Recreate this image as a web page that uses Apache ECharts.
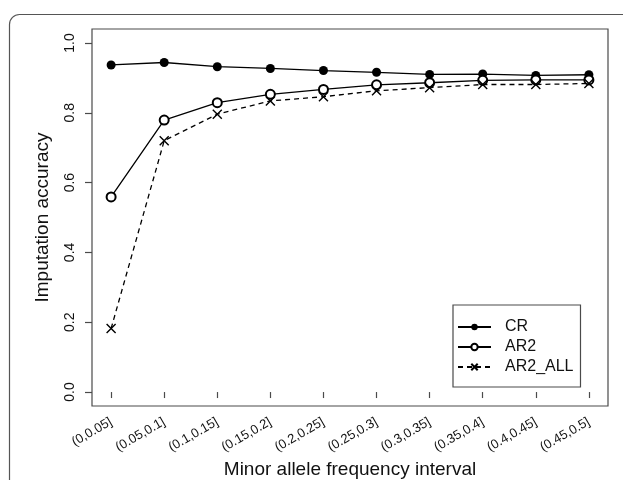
<!DOCTYPE html>
<html>
<head>
<meta charset="utf-8">
<script src="https://cdn.jsdelivr.net/npm/echarts@6/dist/echarts.min.js"></script>
<style>
html,body{margin:0;padding:0;background:#fff;}
#chart{width:623px;height:480px;}
</style>
</head>
<body>
<div id="chart"></div>
<script>
var categories = ['(0,0.05]','(0.05,0.1]','(0.1,0.15]','(0.15,0.2]','(0.2,0.25]','(0.25,0.3]','(0.3,0.35]','(0.35,0.4]','(0.4,0.45]','(0.45,0.5]'];
var crValues = [0.937, 0.944, 0.932, 0.927, 0.921, 0.916, 0.910, 0.911, 0.907, 0.909];
var ar2Values = [0.559, 0.779, 0.829, 0.853, 0.867, 0.880, 0.886, 0.893, 0.894, 0.894];
var ar2AllValues = [0.182, 0.720, 0.796, 0.834, 0.846, 0.863, 0.872, 0.881, 0.881, 0.884];
var yTicks = [0, 0.2, 0.4, 0.6, 0.8, 1.0];
var xPositions = [1,2,3,4,5,6,7,8,9,10];

function pairs(vals){ return vals.map(function(v,i){ return [xPositions[i], v]; }); }

var FONT = '"Liberation Sans", Arial, sans-serif';
var INK = '#111';
var FRAME = '#4a4a4a';

var chart = echarts.init(document.getElementById('chart'), null, {renderer:'canvas'});
chart.setOption({
  animation:false,
  backgroundColor:'#fff',
  graphic:[{
    type:'rect', silent:true, z:-1,
    shape:{x:9.5, y:14.5, width:700, height:600, r:10},
    style:{fill:'none', stroke:'#555', lineWidth:1.2}
  }],
  grid:{left:92, top:29, right:15, bottom:74, show:true, borderColor:FRAME, borderWidth:1.2, backgroundColor:'transparent',
    containLabel:false, outerBoundsMode:'none'},
  xAxis:{
    type:'value', min:0.64, max:10.36,
    name:'Minor allele frequency interval', nameLocation:'middle', nameGap:53,
    nameTextStyle:{fontFamily:FONT, fontSize:19, color:INK},
    splitLine:{show:false},
    axisLine:{show:false},
    axisTick:{show:true, length:6, customValues:xPositions, lineStyle:{color:FRAME, width:1.2}},
    axisLabel:{rotate:30, margin:15, fontFamily:FONT, fontSize:13, color:INK, customValues:xPositions,
      formatter:function(v){ return categories[Math.round(v)-1] || ''; }}
  },
  yAxis:{
    type:'value', min:-0.04, max:1.04,
    name:'Imputation accuracy', nameLocation:'middle', nameGap:40,
    nameTextStyle:{fontFamily:FONT, fontSize:19, color:INK},
    splitLine:{show:false},
    axisLine:{show:false},
    axisTick:{show:true, length:7, customValues:yTicks, lineStyle:{color:FRAME, width:1.2}},
    axisLabel:{rotate:90, margin:15, fontFamily:FONT, fontSize:14, color:INK, customValues:yTicks,
      formatter:function(v){ return v.toFixed(1); }}
  },
  legend:{
    orient:'vertical', left:453, top:305,
    padding:[14,7,12,4], itemGap:4,
    borderColor:FRAME, borderWidth:1.2, backgroundColor:'#fff',
    itemWidth:33, itemHeight:8,
    textStyle:{fontFamily:FONT, fontSize:16, color:INK, lineHeight:16, padding:[0,0,0,9]},
    data:['CR','AR2','AR2_ALL']
  },
  series:[
    {name:'CR', type:'line', data:pairs(crValues), symbol:'circle', symbolSize:9,
      itemStyle:{color:'#000'}, lineStyle:{color:'#000', width:1.3}},
    {name:'AR2', type:'line', data:pairs(ar2Values), symbol:'emptyCircle', symbolSize:9,
      itemStyle:{color:'#000', borderColor:'#000', borderWidth:1.2}, lineStyle:{color:'#000', width:1.3}},
    {name:'AR2_ALL', type:'line', data:pairs(ar2AllValues), symbol:'path://M0,0L10,10M0,10L10,0', symbolSize:9,
      itemStyle:{color:'#000', borderColor:'#000', borderWidth:1.4}, lineStyle:{color:'#000', width:1.3, type:[5,4]}}
  ]
});
</script>
</body>
</html>
